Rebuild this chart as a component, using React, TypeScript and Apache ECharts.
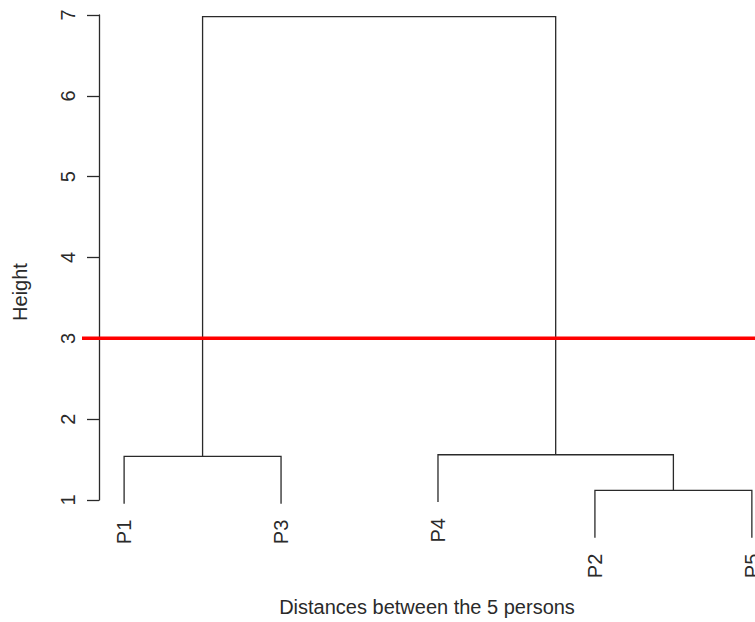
import React, { useEffect, useRef } from "react";
import * as echarts from "echarts";

// ---- Data ----
const leafOrder = ["P1", "P3", "P4", "P2", "P5"];
// Each merge joins two children: a leaf name, or "#n" = result of merge n
const mergeLeft = ["P2", "P1", "P4", "#1"];
const mergeRight = ["P5", "P3", "#0", "#2"];
const mergeHeights = [1.12, 1.54, 1.56, 6.98];
const cutHeight = 3;
const yMin = 1;
const yMax = 7;
const xTitle = "Distances between the 5 persons";
const yTitle = "Height";

const FONT = "'Liberation Sans', Arial, Helvetica, sans-serif";
const INK = "#2a2a2a";

function buildTree() {
  const hMax = Math.max(...mergeHeights);
  const hMin = Math.min(...mergeHeights);
  const hang = 0.1 * (hMax - hMin);
  const mergeX: number[] = [];
  const segs: number[][] = [];
  const leaves: { x: number; y: number; name: string }[] = [];
  const childPos = (c: string, h: number) => {
    if (c.startsWith("#")) {
      const i = parseInt(c.slice(1), 10);
      return [mergeX[i], mergeHeights[i]];
    }
    const x = leafOrder.indexOf(c) + 1;
    const y = h - hang;
    leaves.push({ x, y, name: c });
    return [x, y];
  };
  mergeHeights.forEach((h, i) => {
    const [xl, yl] = childPos(mergeLeft[i], h);
    const [xr, yr] = childPos(mergeRight[i], h);
    mergeX[i] = (xl + xr) / 2;
    segs.push([xl, yl, xr, yr, h]);
  });
  leaves.sort((a, b) => a.x - b.x);
  return { segs, leaves };
}

export default function App() {
  const ref = useRef<HTMLDivElement>(null);
  useEffect(() => {
    if (!ref.current) return;
    const chart = echarts.init(ref.current, undefined, { renderer: "svg" });
    const { segs, leaves } = buildTree();
    const xAxisMin = 0.84;
    const xAxisMax = 5.02;
    chart.setOption({
      animation: false,
      backgroundColor: "#ffffff",
      grid: { left: 99, right: 0, top: 15, bottom: 121, containLabel: false },
      xAxis: {
        type: "value",
        min: xAxisMin,
        max: xAxisMax,
        axisLine: { show: false },
        axisTick: { show: false },
        axisLabel: { show: false },
        splitLine: { show: false },
        name: xTitle,
        nameLocation: "middle",
        nameGap: 97,
        nameTextStyle: { fontFamily: FONT, fontSize: 20, color: INK },
      },
      yAxis: {
        type: "value",
        min: yMin,
        max: yMax,
        interval: 1,
        axisLine: { show: true, lineStyle: { color: INK, width: 1.3 } },
        axisTick: { show: true, length: 12, lineStyle: { color: INK, width: 1.3 } },
        axisLabel: {
          rotate: 90,
          margin: 21,
          fontFamily: FONT,
          fontSize: 20,
          color: INK,
        },
        splitLine: { show: false },
      },
      graphic: [
        {
          type: "text",
          x: 20,
          y: 292,
          rotation: Math.PI / 2,
          style: {
            text: yTitle,
            align: "center",
            verticalAlign: "middle",
            fontFamily: FONT,
            fontSize: 20,
            fill: INK,
          },
        },
      ],
      series: [
        {
          type: "custom",
          clip: false,
          data: segs,
          renderItem: (params: any, api: any) => {
            const xl = api.value(0), yl = api.value(1), xr = api.value(2), yr = api.value(3), h = api.value(4);
            return {
              type: "polyline",
              shape: {
                points: [api.coord([xl, yl]), api.coord([xl, h]), api.coord([xr, h]), api.coord([xr, yr])],
              },
              style: { stroke: INK, lineWidth: 1.3, fill: null },
            };
          },
          z: 2,
        },
        {
          type: "custom",
          clip: false,
          data: leaves.map((l) => [l.x, l.y]),
          renderItem: (params: any, api: any) => {
            const p = api.coord([api.value(0), api.value(1)]);
            return {
              type: "text",
              x: p[0],
              y: p[1] + 16,
              rotation: Math.PI / 2,
              style: {
                text: leaves[params.dataIndex].name,
                align: "right",
                verticalAlign: "middle",
                fontFamily: FONT,
                fontSize: 20,
                fill: INK,
              },
            };
          },
          z: 2,
        },
        {
          type: "custom",
          clip: false,
          data: [[xAxisMin, cutHeight]],
          renderItem: (params: any, api: any) => {
            const p0 = api.coord([xAxisMin, api.value(1)]);
            const p1 = api.coord([xAxisMax, api.value(1)]);
            return {
              type: "line",
              shape: { x1: p0[0] - 17, y1: p0[1], x2: p1[0], y2: p1[1] },
              style: { stroke: "#ff0000", lineWidth: 3.5 },
            };
          },
          z: 5,
        },
      ],
    });
    return () => chart.dispose();
  }, []);
  return (
    <div
      ref={ref}
      style={{ position: "absolute", left: 0, top: 0, width: 755, height: 622 }}
    />
  );
}
